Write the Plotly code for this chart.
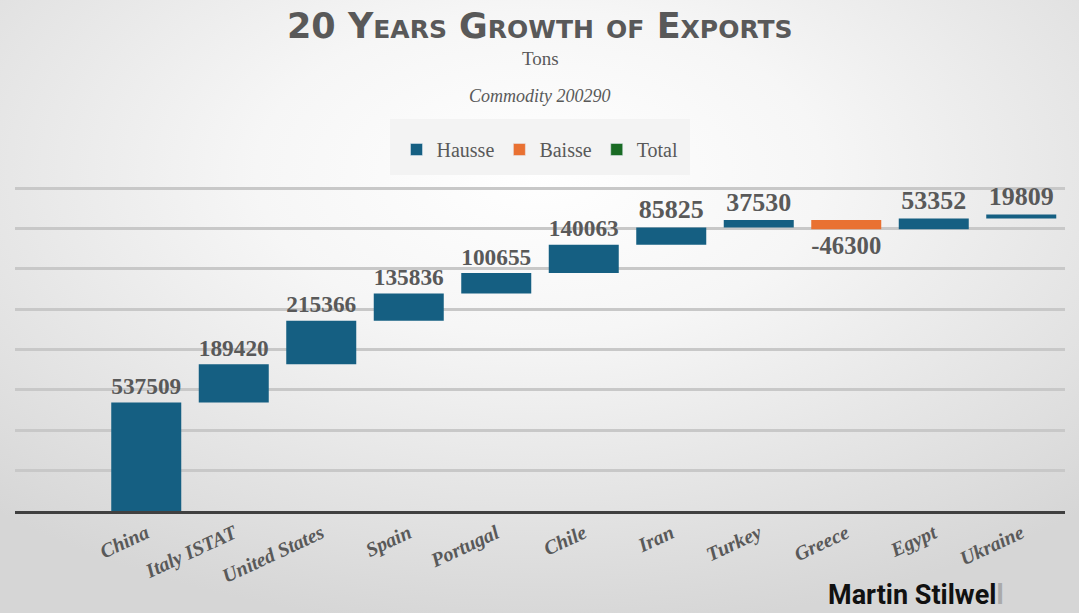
import plotly.graph_objects as go
import base64

categories = ["China", "Italy ISTAT", "United States", "Spain", "Portugal", "Chile",
              "Iran", "Turkey", "Greece", "Egypt", "Ukraine"]
values = [537509, 189420, 215366, 135836, 100655, 140063, 85825, 37530, -46300, 53352, 19809]
legend_names = ["Hausse", "Baisse", "Total"]
legend_colors = ["#155f82", "#e97132", "#196b24"]

W, H = 1079, 613
ml, mr, mt, mb = 15, 14, 184, 102

svg = f'''<svg xmlns="http://www.w3.org/2000/svg" width="{W}" height="{H}" viewBox="0 0 {W} {H}" preserveAspectRatio="none">
<defs><radialGradient id="g" cx="0.5" cy="0.28" r="0.75" gradientUnits="objectBoundingBox">
<stop offset="0" stop-color="#ffffff"/><stop offset="0.35" stop-color="#f6f6f6"/>
<stop offset="1" stop-color="#d6d6d6"/></radialGradient></defs>
<rect width="{W}" height="{H}" fill="url(#g)"/></svg>'''
bg_uri = "data:image/svg+xml;base64," + base64.b64encode(svg.encode()).decode()

fig = go.Figure()
fig.add_trace(go.Waterfall(
    x=categories, y=values, measure=["relative"] * len(values),
    text=[str(v) for v in values], textposition="outside",
    textfont=dict(family="Liberation Serif", size=26, color="#595959", weight="bold"),
    increasing=dict(marker=dict(color=legend_colors[0])),
    decreasing=dict(marker=dict(color=legend_colors[1])),
    totals=dict(marker=dict(color=legend_colors[2])),
    connector=dict(visible=False), width=0.8, showlegend=False, cliponaxis=False,
    hoverinfo="x+y",
))
for n, c in zip(legend_names, legend_colors):
    fig.add_trace(go.Bar(x=[None], y=[None], name=n, marker_color=c))

plot_w = W - ml - mr
plot_h = H - mt - mb

def px_x(px):
    return (px - ml) / plot_w

def px_y(py):
    return (H - mb - py) / plot_h

def sc(big, small):
    return f'{big}<span style="font-size:25px">{small}</span>'

title = " ".join([sc("20", ""), sc("Y", "EARS"), sc("G", "ROWTH"), sc("", "OF"), sc("E", "XPORTS")])

fig.update_layout(
    width=W, height=H, margin=dict(l=ml, r=mr, t=mt, b=mb),
    paper_bgcolor="white", plot_bgcolor="rgba(0,0,0,0)",
    showlegend=True,
    legend=dict(orientation="h", x=0.5, xanchor="center", y=px_y(130),
                yanchor="top", bgcolor="rgba(0,0,0,0)",
                font=dict(family="Liberation Serif", size=20, color="#595959"),
                itemwidth=30, borderwidth=0, traceorder="normal"),
    xaxis=dict(range=[-1.5, 10.5], tickangle=-25, showgrid=False,
               showline=True, linecolor="#404040", linewidth=3,
               tickfont=dict(family="Liberation Serif", size=20, color="#595959",
                             style="italic", weight="bold"), ticks=""),
    yaxis=dict(range=[0, 1620000], dtick=200000, showticklabels=False,
               showgrid=True, gridcolor="#c8c8c8", gridwidth=3, zeroline=False),
    images=[dict(source=bg_uri, xref="paper", yref="paper",
                 x=px_x(0), y=px_y(0), sizex=W / plot_w, sizey=H / plot_h,
                 xanchor="left", yanchor="top", sizing="stretch", layer="below")],
    shapes=[dict(type="rect", xref="paper", yref="paper", x0=px_x(390), x1=px_x(690),
                 y0=px_y(175), y1=px_y(119), fillcolor="#f3f3f3", line=dict(width=0),
                 layer="below")],
    annotations=[
        dict(text=title, xref="paper", yref="paper", x=0.5, y=px_y(26),
             xanchor="center", yanchor="middle", showarrow=False,
             font=dict(family="DejaVu Sans", size=35, color="#595959", weight="bold")),
        dict(text="Tons", xref="paper", yref="paper", x=0.5, y=px_y(58),
             xanchor="center", yanchor="middle", showarrow=False,
             font=dict(family="Liberation Serif", size=19, color="#595959")),
        dict(text="Commodity 200290", xref="paper", yref="paper", x=0.5, y=px_y(96),
             xanchor="center", yanchor="middle", showarrow=False,
             font=dict(family="Liberation Serif", size=18, color="#595959", style="italic")),
        dict(text='Martin Stilwel<span style="color:#aaaaaa">l</span>', xref="paper", yref="paper",
             x=px_x(1006), y=px_y(613),
             xanchor="right", yanchor="bottom", showarrow=False,
             font=dict(family="Roboto", size=27, color="#111111", weight="bold")),
    ],
)

fig.write_html("out.html", config={"displayModeBar": False},
               post_script="document.body.style.margin='0';document.body.style.overflow='hidden';")
